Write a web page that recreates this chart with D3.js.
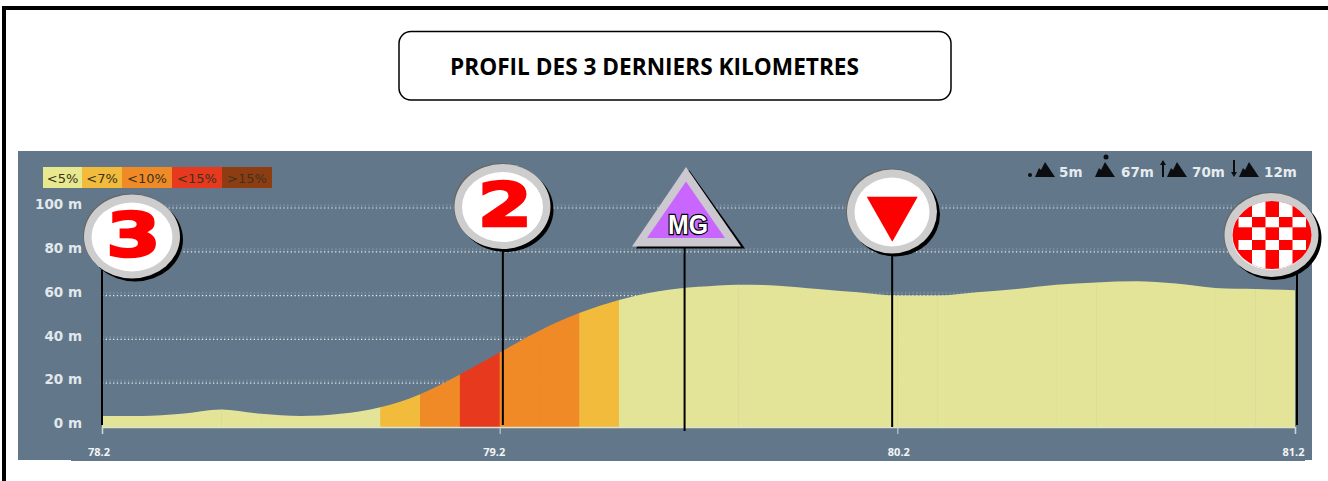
<!DOCTYPE html>
<html>
<head>
<meta charset="utf-8">
<script src="https://d3js.org/d3.v7.min.js"></script>
<style>
  html, body { margin: 0; padding: 0; background: #fff; overflow: hidden; }
  svg { display: block; }
</style>
</head>
<body>
<script>
const title = 'PROFIL DES 3 DERNIERS KILOMETRES'

// one elevation reading every 100 m
const kmPoints = [78.2, 78.3, 78.4, 78.5, 78.6, 78.7, 78.8, 78.9, 79.0, 79.1, 79.2,
  79.3, 79.4, 79.5, 79.6, 79.7, 79.8, 79.9, 80.0, 80.1, 80.2,
  80.3, 80.4, 80.5, 80.6, 80.7, 80.8, 80.9, 81.0, 81.1, 81.2]
const elevations = [5, 5, 6, 8, 6, 5, 6, 9, 15, 24, 34,
  44, 52, 58, 62, 64, 65, 64.5, 63, 61.5, 60,
  60, 61.5, 63, 65, 66, 66.5, 65.5, 63.5, 63, 62.5]
// gradient class of each 100 m stretch, index in gradeLabels
const segmentGrades = [0, 0, 0, 0, 0, 0, 0, 1, 2, 3, 2, 2, 1, 0, 0,
  0, 0, 0, 0, 0, 0, 0, 0, 0, 0, 0, 0, 0, 0, 0]
const gradeLabels = ['<5%', '<7%', '<10%', '<15%', '>15%']
const gradeColors = ['#e3e497', '#f2bb3c', '#ef8a26', '#e6391d', '#8e3d12']

const yTicks = [0, 20, 40, 60, 80, 100]
const xTicks = [78.2, 79.2, 80.2, 81.2]
const xTickShift = [-3.5, -6, 1, -2]

const climbKinds = ['min', 'max', 'up', 'down']
const climbValues = ['5m', '67m', '70m', '12m']

const panel = { x: 18, y: 151, w: 1294, h: 310 }
const slate = '#62788a'

const xScale = d3.scaleLinear().domain([78.2, 81.2]).range([102, 1295])
const yScale = d3.scaleLinear().domain([0, 100]).range([427, 208])

const svg = d3.select('body').append('svg')
  .attr('width', 1328)
  .attr('height', 481)

// page frame
svg.append('rect').attr('x', 2).attr('y', 6).attr('width', 1326).attr('height', 4).attr('fill', '#000')
svg.append('rect').attr('x', 2).attr('y', 6).attr('width', 4).attr('height', 475).attr('fill', '#000')

// title box
svg.append('rect')
  .attr('x', 399).attr('y', 31.5)
  .attr('width', 552).attr('height', 68.5)
  .attr('rx', 12)
  .attr('fill', '#fff')
  .attr('stroke', '#000')
  .attr('stroke-width', 1.5)

svg.append('text')
  .attr('x', 450).attr('y', 75)
  .attr('font-family', '"Open Sans", sans-serif')
  .attr('font-weight', 700)
  .attr('font-size', 23)
  .attr('fill', '#000')
  .attr('textLength', 409)
  .attr('lengthAdjust', 'spacingAndGlyphs')
  .text(title)

// chart panel
svg.append('rect')
  .attr('x', panel.x).attr('y', panel.y)
  .attr('width', panel.w).attr('height', panel.h)
  .attr('fill', slate)
svg.append('rect')
  .attr('x', panel.x).attr('y', 460)
  .attr('width', 53).attr('height', 1)
  .attr('fill', '#fff')
svg.append('rect')
  .attr('x', 1305).attr('y', 460)
  .attr('width', 7).attr('height', 1)
  .attr('fill', '#fff')

// dotted grid with its soft shadow row
const gridLines = svg.append('g').selectAll('g')
  .data(yTicks.filter(d => d > 0))
  .join('g')
gridLines.append('line')
  .attr('x1', xScale.range()[0])
  .attr('x2', xScale.range()[1])
  .attr('y1', d => yScale(d) - 2.5)
  .attr('y2', d => yScale(d) - 2.5)
  .attr('stroke', '#76899a')
  .attr('stroke-width', 2.5)
  .attr('stroke-dasharray', '1.5 2.2')
gridLines.append('line')
  .attr('x1', xScale.range()[0])
  .attr('x2', xScale.range()[1])
  .attr('y1', d => yScale(d))
  .attr('y2', d => yScale(d))
  .attr('stroke', '#e4eaee')
  .attr('stroke-width', 1.2)
  .attr('stroke-dasharray', '1.3 2.4')

// profile, coloured stretch by stretch
const profile = d3.area()
  .x((d, i) => xScale(kmPoints[i]))
  .y0(yScale(0))
  .y1(d => yScale(d))
  .curve(d3.curveMonotoneX)

svg.append('clipPath')
  .attr('id', 'profileClip')
  .append('path')
  .attr('d', profile(elevations))

svg.append('g')
  .attr('clip-path', 'url(#profileClip)')
  .selectAll('rect')
  .data(segmentGrades)
  .join('rect')
  .attr('x', (d, i) => xScale(kmPoints[i]))
  .attr('y', yScale(100))
  .attr('width', (d, i) => xScale(kmPoints[i + 1]) - xScale(kmPoints[i]) + 0.5)
  .attr('height', yScale(0) - yScale(100))
  .attr('fill', d => gradeColors[d])

// axes
const xAxis = svg.append('g')
  .attr('transform', `translate(0, ${yScale(0)})`)
  .call(d3.axisBottom(xScale).tickValues(xTicks).tickSize(7).tickFormat(d3.format('.1f')))
xAxis.select('.domain').attr('stroke', '#dfe3c8').attr('stroke-width', 1.5)
xAxis.selectAll('.tick line').attr('stroke', '#c9d6ea')
xAxis.selectAll('.tick text')
  .attr('font-family', '"Open Sans", sans-serif')
  .attr('font-weight', 700)
  .attr('font-size', 11)
  .attr('fill', '#f2f5f7')
  .attr('y', 21)
  .attr('dx', (d, i) => xTickShift[i])

const yAxis = svg.append('g')
  .attr('transform', 'translate(82, 0)')
  .call(d3.axisLeft(yScale).tickValues(yTicks).tickSize(0).tickPadding(0).tickFormat(d => `${d} m`))
yAxis.select('.domain').remove()
yAxis.selectAll('.tick text')
  .attr('font-family', '"DejaVu Sans", sans-serif')
  .attr('font-weight', 700)
  .attr('font-size', 13.5)
  .attr('fill', '#e3e8ec')
  .attr('dy', '0.05em')

// gradient legend
const legendWidth = d3.scaleOrdinal().domain(gradeLabels).range([39, 40, 50, 50, 50])
const legend = svg.append('g').attr('transform', 'translate(43, 167)')
let legendX = 0
gradeLabels.forEach((label, i) => {
  const w = legendWidth(label)
  legend.append('rect')
    .attr('x', legendX).attr('width', w).attr('height', 21)
    .attr('fill', i === 0 ? '#e8e88f' : gradeColors[i])
  legend.append('text')
    .attr('x', legendX + w / 2).attr('y', 15.5)
    .attr('text-anchor', 'middle')
    .attr('font-family', '"DejaVu Sans", sans-serif')
    .attr('font-size', 13)
    .attr('fill', '#3a3320')
    .text(label)
  legendX += w
})

// climb summary at top right
const peaks = 'M-11 7L-7 -2L-5 0L-1 -8L3 -2L9 7Z'
const climbIcon = {
  min: g => g.append('circle').attr('cx', -16).attr('cy', 5).attr('r', 2),
  max: g => g.append('circle').attr('cx', 0).attr('cy', -13).attr('r', 2.5),
  up: g => g.append('path').attr('d', 'M-16 7V-5H-18L-15 -10L-12 -5H-14V7Z'),
  down: g => g.append('path').attr('d', 'M-17 -10V2H-19L-16 7L-13 2H-15V-10Z')
}
const climbIconX = [1046, 1106, 1178, 1250]
const climbTextX = [1059, 1121, 1192, 1264]
climbKinds.forEach((kind, i) => {
  const g = svg.append('g').attr('transform', `translate(${climbIconX[i]}, 170)`).attr('fill', '#0b0d10')
  g.append('path').attr('d', peaks)
  climbIcon[kind](g)
  svg.append('text')
    .attr('x', climbTextX[i]).attr('y', 177)
    .attr('font-family', '"DejaVu Sans", sans-serif')
    .attr('font-weight', 700)
    .attr('font-size', 13.5)
    .attr('fill', '#e6ebef')
    .text(climbValues[i])
})

// route markers
function pole(km, y1, y2) {
  svg.append('line')
    .attr('x1', xScale(km)).attr('x2', xScale(km))
    .attr('y1', y1).attr('y2', y2)
    .attr('stroke', '#000').attr('stroke-width', 2)
}

function badge(cx, cy, rx, ry) {
  const g = svg.append('g')
  g.append('ellipse').attr('cx', cx + 3).attr('cy', cy + 3).attr('rx', rx).attr('ry', ry).attr('fill', '#000')
  g.append('ellipse').attr('cx', cx - 1).attr('cy', cy - 1).attr('rx', rx).attr('ry', ry).attr('fill', '#666')
  g.append('ellipse').attr('cx', cx).attr('cy', cy).attr('rx', rx).attr('ry', ry).attr('fill', '#cdcdcd')
  g.append('ellipse').attr('cx', cx).attr('cy', cy + 0.5).attr('rx', rx - 7.5).attr('ry', ry - 7.5).attr('fill', '#fff')
  return g
}

function badgeDigit(g, digit, cx, baseY) {
  g.append('text')
    .attr('transform', `translate(${cx}, ${baseY}) scale(1.3, 1)`)
    .attr('text-anchor', 'middle')
    .attr('font-family', '"DejaVu Sans", sans-serif')
    .attr('font-weight', 700)
    .attr('font-size', 60)
    .attr('fill', '#ff0000')
    .attr('stroke', '#ff0000')
    .attr('stroke-width', 2.5)
    .text(digit)
}

// 3 km to go
pole(78.2, 270, 425)
badgeDigit(badge(132, 236.5, 48, 42), '3', 133.5, 256)

// 2 km to go
pole(79.208, 240, 425)
badgeDigit(badge(502.5, 206.5, 48, 42.5), '2', 505, 226)

// intermediate sprint
pole(79.665, 240, 431)
svg.append('path').attr('d', 'M689 170L745 248.5H636Z').attr('fill', '#000')
svg.append('path').attr('d', 'M686 167L741 246.5H632Z').attr('fill', '#cbc8d0')
svg.append('path').attr('d', 'M686 181.5L725 238H647Z').attr('fill', '#c866ff')
svg.append('text')
  .attr('x', 688).attr('y', 233.5)
  .attr('text-anchor', 'middle')
  .attr('font-family', '"Liberation Sans", sans-serif')
  .attr('font-weight', 700)
  .attr('font-size', 27)
  .attr('textLength', 40)
  .attr('lengthAdjust', 'spacingAndGlyphs')
  .attr('fill', '#fff')
  .attr('stroke', '#000')
  .attr('stroke-width', 2.5)
  .attr('paint-order', 'stroke')
  .text('MG')

// last km
pole(80.187, 250, 427)
const flag = badge(892, 211.5, 45, 42)
flag.append('path').attr('d', 'M866.7 196.7H917.7L892.3 241.7Z').attr('fill', '#ff0000')

// finish
pole(81.205, 270, 425)
const finish = badge(1271.5, 235, 47, 42)
svg.append('clipPath').attr('id', 'finishClip')
  .append('ellipse').attr('cx', 1272).attr('cy', 235).attr('rx', 39.5).attr('ry', 34)
const checkerRowEdges = [199, 217, 227.3, 240, 250, 271]
const checkerCols = d3.range(5)
const checker = finish.append('g').attr('clip-path', 'url(#finishClip)')
checker.append('rect')
  .attr('x', 1230).attr('y', 199)
  .attr('width', 84).attr('height', 72)
  .attr('fill', '#ff0000')
checker.selectAll('.white')
  .data(d3.cross(d3.range(5), checkerCols).filter(([r, c]) => (r + c) % 2 === 1))
  .join('rect')
  .attr('class', 'white')
  .attr('x', d => 1238.5 + d[1] * 13.5)
  .attr('y', d => checkerRowEdges[d[0]])
  .attr('width', 13.5)
  .attr('height', d => checkerRowEdges[d[0] + 1] - checkerRowEdges[d[0]])
  .attr('fill', '#fff')
</script>
</body>
</html>
